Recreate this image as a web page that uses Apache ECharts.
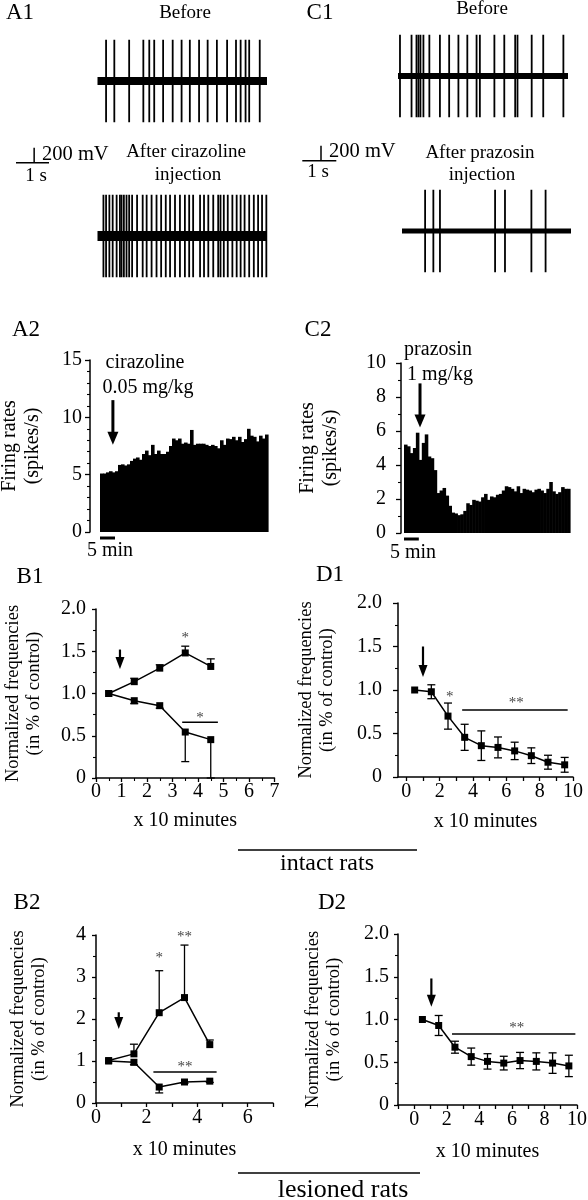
<!DOCTYPE html>
<html><head><meta charset="utf-8">
<script src="https://cdn.jsdelivr.net/npm/echarts@6/dist/echarts.min.js"></script>
<style>html,body{margin:0;padding:0;background:#fff}#c{width:588px;height:1200px}</style>
</head><body><div id="c"></div>
<script>
// ---------------- DATA ----------------
// spike times (s) in the extracellular traces
const a1BeforeSpikes = [0.26,0.51,0.96,1.39,1.57,1.72,1.99,2.28,2.55,2.80,3.08,3.34,3.62,3.93,4.20,4.34,4.49,4.60,4.92];
const a1AfterSpikes = [0.18,0.26,0.36,0.46,0.58,0.68,0.73,0.80,0.88,0.96,1.05,1.20,1.37,1.49,1.64,1.79,1.93,2.07,2.20,2.35,2.50,2.65,2.78,2.90,3.11,3.23,3.36,3.51,3.66,3.73,3.83,3.95,4.09,4.22,4.34,4.46,4.60,4.74,4.87,4.99,5.12];
const c1BeforeSpikes = [0.06,0.41,0.56,0.62,0.68,0.77,0.95,1.27,1.55,1.83,2.10,2.38,2.48,2.92,3.22,3.55,3.62,4.05,4.40,5.01];
const c1AfterSpikes = [0.70,0.95,1.15,2.82,3.12,3.92,4.35];
const traceDurSec = [5.14, 5.14, 5.15, 5.12];
const spikeAmpMv = 550;
const scaleBarSec = 1;
const scaleBarMv = 200;

// firing-rate histograms (spikes/s), 1-min bins
const histA2 = [5.1,5.1,5.2,5.3,5.2,5.3,5.85,5.9,5.8,5.9,6.2,6.4,6.5,6.3,6.8,7.1,6.7,7.6,6.8,7.1,6.8,6.8,7.0,7.5,8.15,8.0,8.15,7.7,7.8,7.7,8.9,7.6,7.7,7.7,7.7,7.6,7.5,7.6,7.5,7.3,8.0,7.6,8.15,8.1,8.3,8.0,8.3,7.85,8.1,9.0,8.4,8.3,7.9,8.4,8.15,8.5];
const histC2 = [5.2,5.1,4.7,5.0,5.9,4.3,5.3,5.8,4.5,4.4,3.7,2.35,2.5,2.65,2.2,1.6,1.2,1.15,1.05,1.1,1.3,1.75,1.65,1.95,1.9,1.85,2.1,2.3,1.95,2.15,2.1,2.25,2.3,2.5,2.75,2.7,2.6,2.45,2.75,2.35,2.6,2.55,2.5,2.4,2.55,2.6,2.5,2.35,2.6,3.0,2.45,2.3,2.4,2.7,2.6,2.6];
const histBinMin = 1;
const scaleBarMin = 5;

// normalized frequencies (x 10 minutes)
const timeB = [0.5,1.5,2.5,3.5,4.5];
const timeD = [0.5,1.5,2.5,3.5,4.5,5.5,6.5,7.5,8.5,9.5];
const b1Up = [1.00,1.14,1.30,1.48,1.32];
const b1UpErr = [0,0.04,0.04,0.08,0.09];
const b1Down = [1.00,0.915,0.856,0.544,0.454];
const b1DownErr = [0,0.035,0.03,0.35,0.454];
const b2Up = [1.01,1.17,2.15,2.51,1.39];
const b2UpErr = [0,0.23,1.0,1.25,0.11];
const b2Down = [1.00,0.97,0.38,0.50,0.52];
const b2DownErr = [0,0.06,0.14,0.03,0.03];
const d1 = [1.00,0.98,0.70,0.456,0.36,0.34,0.30,0.245,0.17,0.14];
const d1Err = [0,0.08,0.15,0.15,0.17,0.12,0.10,0.09,0.08,0.085];
const d2 = [1.00,0.93,0.676,0.566,0.51,0.49,0.52,0.51,0.49,0.457];
const d2Err = [0,0.117,0.07,0.10,0.09,0.08,0.095,0.10,0.12,0.125];

// annotations: arrows [x, yStart, yTip], significance bars [x0, x1, y], stars [x, y, text]
const arrowA2 = [4.3, 11.5, 7.6];
const arrowC2 = [5.4, 8.8, 6.2];
const arrowB1 = [0.94, 1.52, 1.29];
const arrowD1 = [1.0, 1.50, 1.15];
const arrowB2 = [0.9, 2.16, 1.76];
const arrowD2 = [1.05, 1.48, 1.15];
const sigB1 = [3.38, 4.78, 0.66];
const sigD1 = [3.35, 9.68, 0.77];
const sigB2 = [2.27, 4.77, 0.74];
const sigD2 = [2.32, 9.9, 0.83];
const starsB1 = [[3.5,1.70,'*'],[4.08,0.76,'*']];
const starsD1 = [[2.6,0.97,'*'],[6.6,0.90,'**']];
const starsB2 = [[2.5,3.55,'*'],[3.5,4.04,'**'],[3.52,0.95,'**']];
const starsD2 = [[6.3,0.95,'**']];

// ---------------- CHART ----------------
const SERIF = '"Liberation Serif","Times New Roman",serif';
const K = '#000';
const chart = echarts.init(document.getElementById('c'), null, {renderer:'canvas'});

const grids = [
  {left:97.5, top:36, width:169.5, height:90},   // 0 A1 before
  {left:97.5, top:191, width:169.5, height:90},  // 1 A1 after
  {left:398, top:31, width:170, height:90},      // 2 C1 before
  {left:402, top:186, width:169, height:90},     // 3 C1 after
  {left:16, top:147.7, width:33, height:15},     // 4 A1 scale
  {left:302.3, top:145.7, width:34, height:15},  // 5 C1 scale
  {left:100, top:360, width:168, height:172},    // 6 A2
  {left:404, top:363, width:166, height:170},    // 7 C2
  {left:96, top:609, width:178.5, height:169},   // 8 B1
  {left:398, top:603, width:175, height:174},    // 9 D1
  {left:96, top:935, width:177, height:168},     // 10 B2
  {left:398, top:934, width:179, height:171}     // 11 D2
].map(g => Object.assign({containLabel:false, outerBoundsMode:'none'}, g));

const hidden = (i, min, max) => ({gridIndex:i, type:'value', min, max, show:false});
const lbl = (extra) => Object.assign({color:K, fontFamily:SERIF, fontSize:20}, extra||{});
const aLine = {show:true, onZero:false, lineStyle:{color:K, width:1.5}};
const aTick = (len) => ({show:true, inside:false, length:len, lineStyle:{color:K, width:1.3}});
const mTick = (n, len) => ({show:true, splitNumber:n, length:len, lineStyle:{color:K, width:1.1}});
const NF = 'Normalized frequencies\n(in % of control)';
const FR = 'Firing rates\n(spikes/s)';
const nameStyle = (fs) => ({color:K, fontFamily:SERIF, fontSize:fs, lineHeight:fs+3});
const fmt1 = v => v === 0 ? '0' : v.toFixed(1);

const xAxes = [
  hidden(0,0,traceDurSec[0]), hidden(1,0,traceDurSec[1]), hidden(2,0,traceDurSec[2]), hidden(3,0,traceDurSec[3]),
  hidden(4,0,scaleBarSec), hidden(5,0,scaleBarSec),
  hidden(6,0,histA2.length*histBinMin), hidden(7,0,histC2.length*histBinMin),
  {gridIndex:8, type:'value', min:0, max:7, interval:1, axisLine:aLine, axisTick:aTick(4), minorTick:mTick(2,3), splitLine:{show:false}, minorSplitLine:{show:false},
   axisLabel:lbl({margin:4}), name:'x 10 minutes', nameLocation:'middle', nameGap:31, nameTextStyle:nameStyle(20)},
  {gridIndex:9, type:'value', min:-0.5, max:10, axisLine:aLine,
   axisTick:Object.assign(aTick(4), {customValues:[0,1,2,3,4,5,6,7,8,9,10]}), splitLine:{show:false},
   axisLabel:lbl({margin:5, customValues:[0,2,4,6,8,10]}), name:'x 10 minutes', nameLocation:'middle', nameGap:33, nameTextStyle:nameStyle(20)},
  {gridIndex:10, type:'value', min:0, max:7, interval:1, axisLine:aLine, axisTick:aTick(4), splitLine:{show:false},
   axisLabel:lbl({margin:5, formatter: v => (v % 2 === 0 ? String(v) : '')}), name:'x 10 minutes', nameLocation:'middle', nameGap:35, nameTextStyle:nameStyle(20)},
  {gridIndex:11, type:'value', min:-1, max:10, interval:1, axisLine:aLine, axisTick:aTick(4), splitLine:{show:false},
   axisLabel:lbl({margin:5, formatter: v => (v >= 0 && v % 2 === 0 ? String(v) : '')}), name:'x 10 minutes', nameLocation:'middle', nameGap:35, nameTextStyle:nameStyle(20)}
];

const yAxes = [
  hidden(0,-600,600), hidden(1,-600,600), hidden(2,-600,600), hidden(3,-600,600),
  hidden(4,0,scaleBarMv), hidden(5,0,scaleBarMv),
  {gridIndex:6, type:'value', min:0, max:15, interval:5, offset:10, axisLine:aLine, axisTick:aTick(5), minorTick:mTick(5,3), splitLine:{show:false}, minorSplitLine:{show:false},
   axisLabel:lbl({margin:8}), name:FR, nameLocation:'middle', nameRotate:90, nameGap:46, nameTextStyle:nameStyle(20)},
  {gridIndex:7, type:'value', min:0, max:10, interval:2, offset:3, axisLine:aLine, axisTick:aTick(5), minorTick:mTick(2,3), splitLine:{show:false}, minorSplitLine:{show:false},
   axisLabel:lbl({margin:15}), name:FR, nameLocation:'middle', nameRotate:90, nameGap:59, nameTextStyle:nameStyle(20)},
  {gridIndex:8, type:'value', min:0, max:2, interval:0.5, axisLine:aLine, axisTick:aTick(4), minorTick:mTick(2,3), splitLine:{show:false}, minorSplitLine:{show:false},
   axisLabel:lbl({margin:10, formatter:fmt1}), name:NF, nameLocation:'middle', nameRotate:90, nameGap:51, nameTextStyle:nameStyle(18.5)},
  {gridIndex:9, type:'value', min:0, max:2, interval:0.5, axisLine:aLine, axisTick:aTick(5), minorTick:mTick(2,3), splitLine:{show:false}, minorSplitLine:{show:false},
   axisLabel:lbl({margin:16, formatter:fmt1}), name:NF, nameLocation:'middle', nameRotate:90, nameGap:60, nameTextStyle:nameStyle(18.5)},
  {gridIndex:10, type:'value', min:0, max:4, interval:1, axisLine:aLine, axisTick:aTick(4), minorTick:mTick(2,3), splitLine:{show:false}, minorSplitLine:{show:false},
   axisLabel:lbl({margin:10}), name:NF, nameLocation:'middle', nameRotate:90, nameGap:46, nameTextStyle:nameStyle(18.5)},
  {gridIndex:11, type:'value', min:0, max:2, interval:0.5, axisLine:aLine, axisTick:aTick(4), minorTick:mTick(2,3), splitLine:{show:false}, minorSplitLine:{show:false},
   axisLabel:lbl({margin:9, formatter:fmt1}), name:NF, nameLocation:'middle', nameRotate:90, nameGap:53, nameTextStyle:nameStyle(18.5)}
];

const series = [];

// traces
const traces = [a1BeforeSpikes, a1AfterSpikes, c1BeforeSpikes, c1AfterSpikes];
const noiseW = [8, 10, 6, 5];
traces.forEach((sp, i) => {
  series.push({type:'line', xAxisIndex:i, yAxisIndex:i, data:[[0,0],[traceDurSec[i],0]], symbol:'none', silent:true,
    lineStyle:{color:K, width:noiseW[i]}});
  series.push({type:'custom', xAxisIndex:i, yAxisIndex:i, data:sp.map(t => [t, 0]), encode:{x:0, y:1}, silent:true,
    renderItem:(p, api) => {
      const a = api.coord([api.value(0), spikeAmpMv]);
      const b = api.coord([api.value(0), -spikeAmpMv]);
      return {type:'line', shape:{x1:a[0], y1:a[1], x2:b[0], y2:b[1]}, style:{stroke:K, lineWidth:1.8}};
    }});
});

// voltage / time scale bars
[4, 5].forEach(i => {
  series.push({type:'custom', xAxisIndex:i, yAxisIndex:i, data:[[scaleBarSec, scaleBarMv]], encode:{x:0, y:1}, silent:true,
    renderItem:(p, api) => {
      const o = api.coord([0, 0]);
      const e = api.coord([api.value(0), 0]);
      const vx = api.coord([api.value(0) * 0.55, 0]);
      const vt = api.coord([api.value(0) * 0.55, api.value(1)]);
      return {type:'group', children:[
        {type:'line', shape:{x1:o[0], y1:o[1], x2:e[0], y2:e[1]}, style:{stroke:K, lineWidth:1.5}},
        {type:'line', shape:{x1:vx[0], y1:vx[1], x2:vt[0], y2:vt[1]}, style:{stroke:K, lineWidth:1.5}}
      ]};
    }});
});

// histograms
const arrowItem = (headW, headL, shaftW) => (p, api) => {
  const p1 = api.coord([api.value(0), api.value(1)]);
  const p2 = api.coord([api.value(0), api.value(2)]);
  return {type:'group', children:[
    {type:'line', shape:{x1:p1[0], y1:p1[1], x2:p2[0], y2:p2[1]-headL+1}, style:{stroke:K, lineWidth:shaftW}},
    {type:'polygon', shape:{points:[[p2[0]-headW/2, p2[1]-headL],[p2[0]+headW/2, p2[1]-headL],[p2[0], p2[1]]]}, style:{fill:K}}
  ]};
};
[[6, histA2, arrowA2], [7, histC2, arrowC2]].forEach(([i, h, arr]) => {
  series.push({type:'custom', xAxisIndex:i, yAxisIndex:i, data:h.map((v, k) => [k*histBinMin, v]), encode:{x:0, y:1}, silent:true,
    renderItem:(p, api) => {
      const a = api.coord([api.value(0), api.value(1)]);
      const b = api.coord([api.value(0) + histBinMin, 0]);
      return {type:'rect', shape:{x:a[0], y:a[1], width:b[0]-a[0]+0.6, height:b[1]-a[1]}, style:{fill:K}};
    }});
  series.push({type:'custom', xAxisIndex:i, yAxisIndex:i, data:[[scaleBarMin, 0]], encode:{x:0, y:1}, silent:true,
    renderItem:(p, api) => {
      const a = api.coord([0, 0]);
      const b = api.coord([api.value(0), 0]);
      return {type:'line', shape:{x1:a[0], y1:a[1]+6, x2:b[0], y2:b[1]+6}, style:{stroke:K, lineWidth:3}};
    }});
  series.push({type:'custom', xAxisIndex:i, yAxisIndex:i, data:[arr], encode:{x:0, y:1}, silent:true, renderItem:arrowItem(11, 13, 3)});
});

// normalized frequency plots
const errItem = (capW) => (p, api) => {
  const x = api.value(0), y = api.value(1), lo = api.value(2), hi = api.value(3);
  const c = api.coord([x, y]);
  const ch = [];
  const add = v => {
    const e = api.coord([x, v]);
    ch.push({type:'line', shape:{x1:c[0], y1:c[1], x2:e[0], y2:e[1]}, style:{stroke:K, lineWidth:1.3}});
    ch.push({type:'line', shape:{x1:e[0]-capW/2, y1:e[1], x2:e[0]+capW/2, y2:e[1]}, style:{stroke:K, lineWidth:1.3}});
  };
  if (hi > 0) add(y + hi);
  if (lo > 0) add(y - lo);
  return {type:'group', children:ch};
};
function addCurve(i, xs, ys, lo, hi) {
  series.push({type:'custom', xAxisIndex:i, yAxisIndex:i, z:2, silent:true, encode:{x:0, y:1},
    data: xs.map((x, k) => [x, ys[k], lo ? lo[k] : 0, hi ? hi[k] : 0]), renderItem:errItem(8)});
  series.push({type:'line', xAxisIndex:i, yAxisIndex:i, z:3, silent:true, data: xs.map((x, k) => [x, ys[k]]),
    symbol:'rect', symbolSize:7, itemStyle:{color:K}, lineStyle:{color:K, width:1.5}});
}
function addAnno(i, sig, stars, arr) {
  series.push({type:'line', xAxisIndex:i, yAxisIndex:i, silent:true, data:[[sig[0], sig[2]], [sig[1], sig[2]]], symbol:'none',
    lineStyle:{color:K, width:1.5}});
  series.push({type:'custom', xAxisIndex:i, yAxisIndex:i, silent:true, encode:{x:0, y:1},
    data: stars.map(s => [s[0], s[1]]),
    renderItem:(p, api) => {
      const c = api.coord([api.value(0), api.value(1)]);
      return {type:'text', x:c[0], y:c[1] + 4, style:{text: stars[p.dataIndex][2], fill:'#444', fontFamily:SERIF, fontSize:15,
        align:'center', verticalAlign:'middle'}};
    }});
  series.push({type:'custom', xAxisIndex:i, yAxisIndex:i, data:[arr], encode:{x:0, y:1}, silent:true, renderItem:arrowItem(9, 12, 2.2)});
}
addCurve(8, timeB, b1Up, null, b1UpErr);
addCurve(8, timeB, b1Down, b1DownErr, null);
addAnno(8, sigB1, starsB1, arrowB1);
addCurve(9, timeD, d1, d1Err, d1Err);
addAnno(9, sigD1, starsD1, arrowD1);
addCurve(10, timeB, b2Up, null, b2UpErr);
addCurve(10, timeB, b2Down, b2DownErr, null);
addAnno(10, sigB2, starsB2, arrowB2);
addCurve(11, timeD, d2, d2Err, d2Err);
addAnno(11, sigD2, starsD2, arrowD2);

// texts
const T = (text, x, y, fs, align) => ({type:'text', silent:true, style:{text, x, y, fill:K, fontFamily:SERIF, fontSize:fs,
  align: align || 'center', verticalAlign:'middle'}});
const L = (x1, y1, x2, y2) => ({type:'line', silent:true, shape:{x1, y1, x2, y2}, style:{stroke:K, lineWidth:1.5}});
const graphic = [
  T('A1', 20, 13, 23), T('C1', 320, 13, 23), T('A2', 26, 330, 23), T('C2', 318, 330, 23),
  T('B1', 30, 577, 23), T('D1', 330, 575, 23), T('B2', 27, 903, 23), T('D2', 332, 903, 23),
  T('Before', 185, 13, 19), T('After cirazoline', 186, 152, 19), T('injection', 188, 175, 19),
  T('200 mV', 42, 155, 20.5, 'left'), T('1 s', 36, 176, 19),
  T('Before', 482, 9, 19), T('After prazosin', 480, 153, 19), T('injection', 482, 175, 19),
  T('200 mV', 329, 152, 20.5, 'left'), T('1 s', 318, 172, 19),
  T('cirazoline', 145, 363, 20), T('0.05 mg/kg', 148, 388, 20),
  T('prazosin', 438, 350, 20), T('1 mg/kg', 440, 375, 20),
  T('5 min', 110, 551, 20), T('5 min', 413, 553, 20),
  L(238, 850, 417, 850), T('intact rats', 327, 864, 24),
  L(238, 1173, 420, 1173), T('lesioned rats', 343, 1190, 26)
];

chart.setOption({animation:false, backgroundColor:'#fff', grid:grids, xAxis:xAxes, yAxis:yAxes, series, graphic:{elements:graphic}});
</script></body></html>
